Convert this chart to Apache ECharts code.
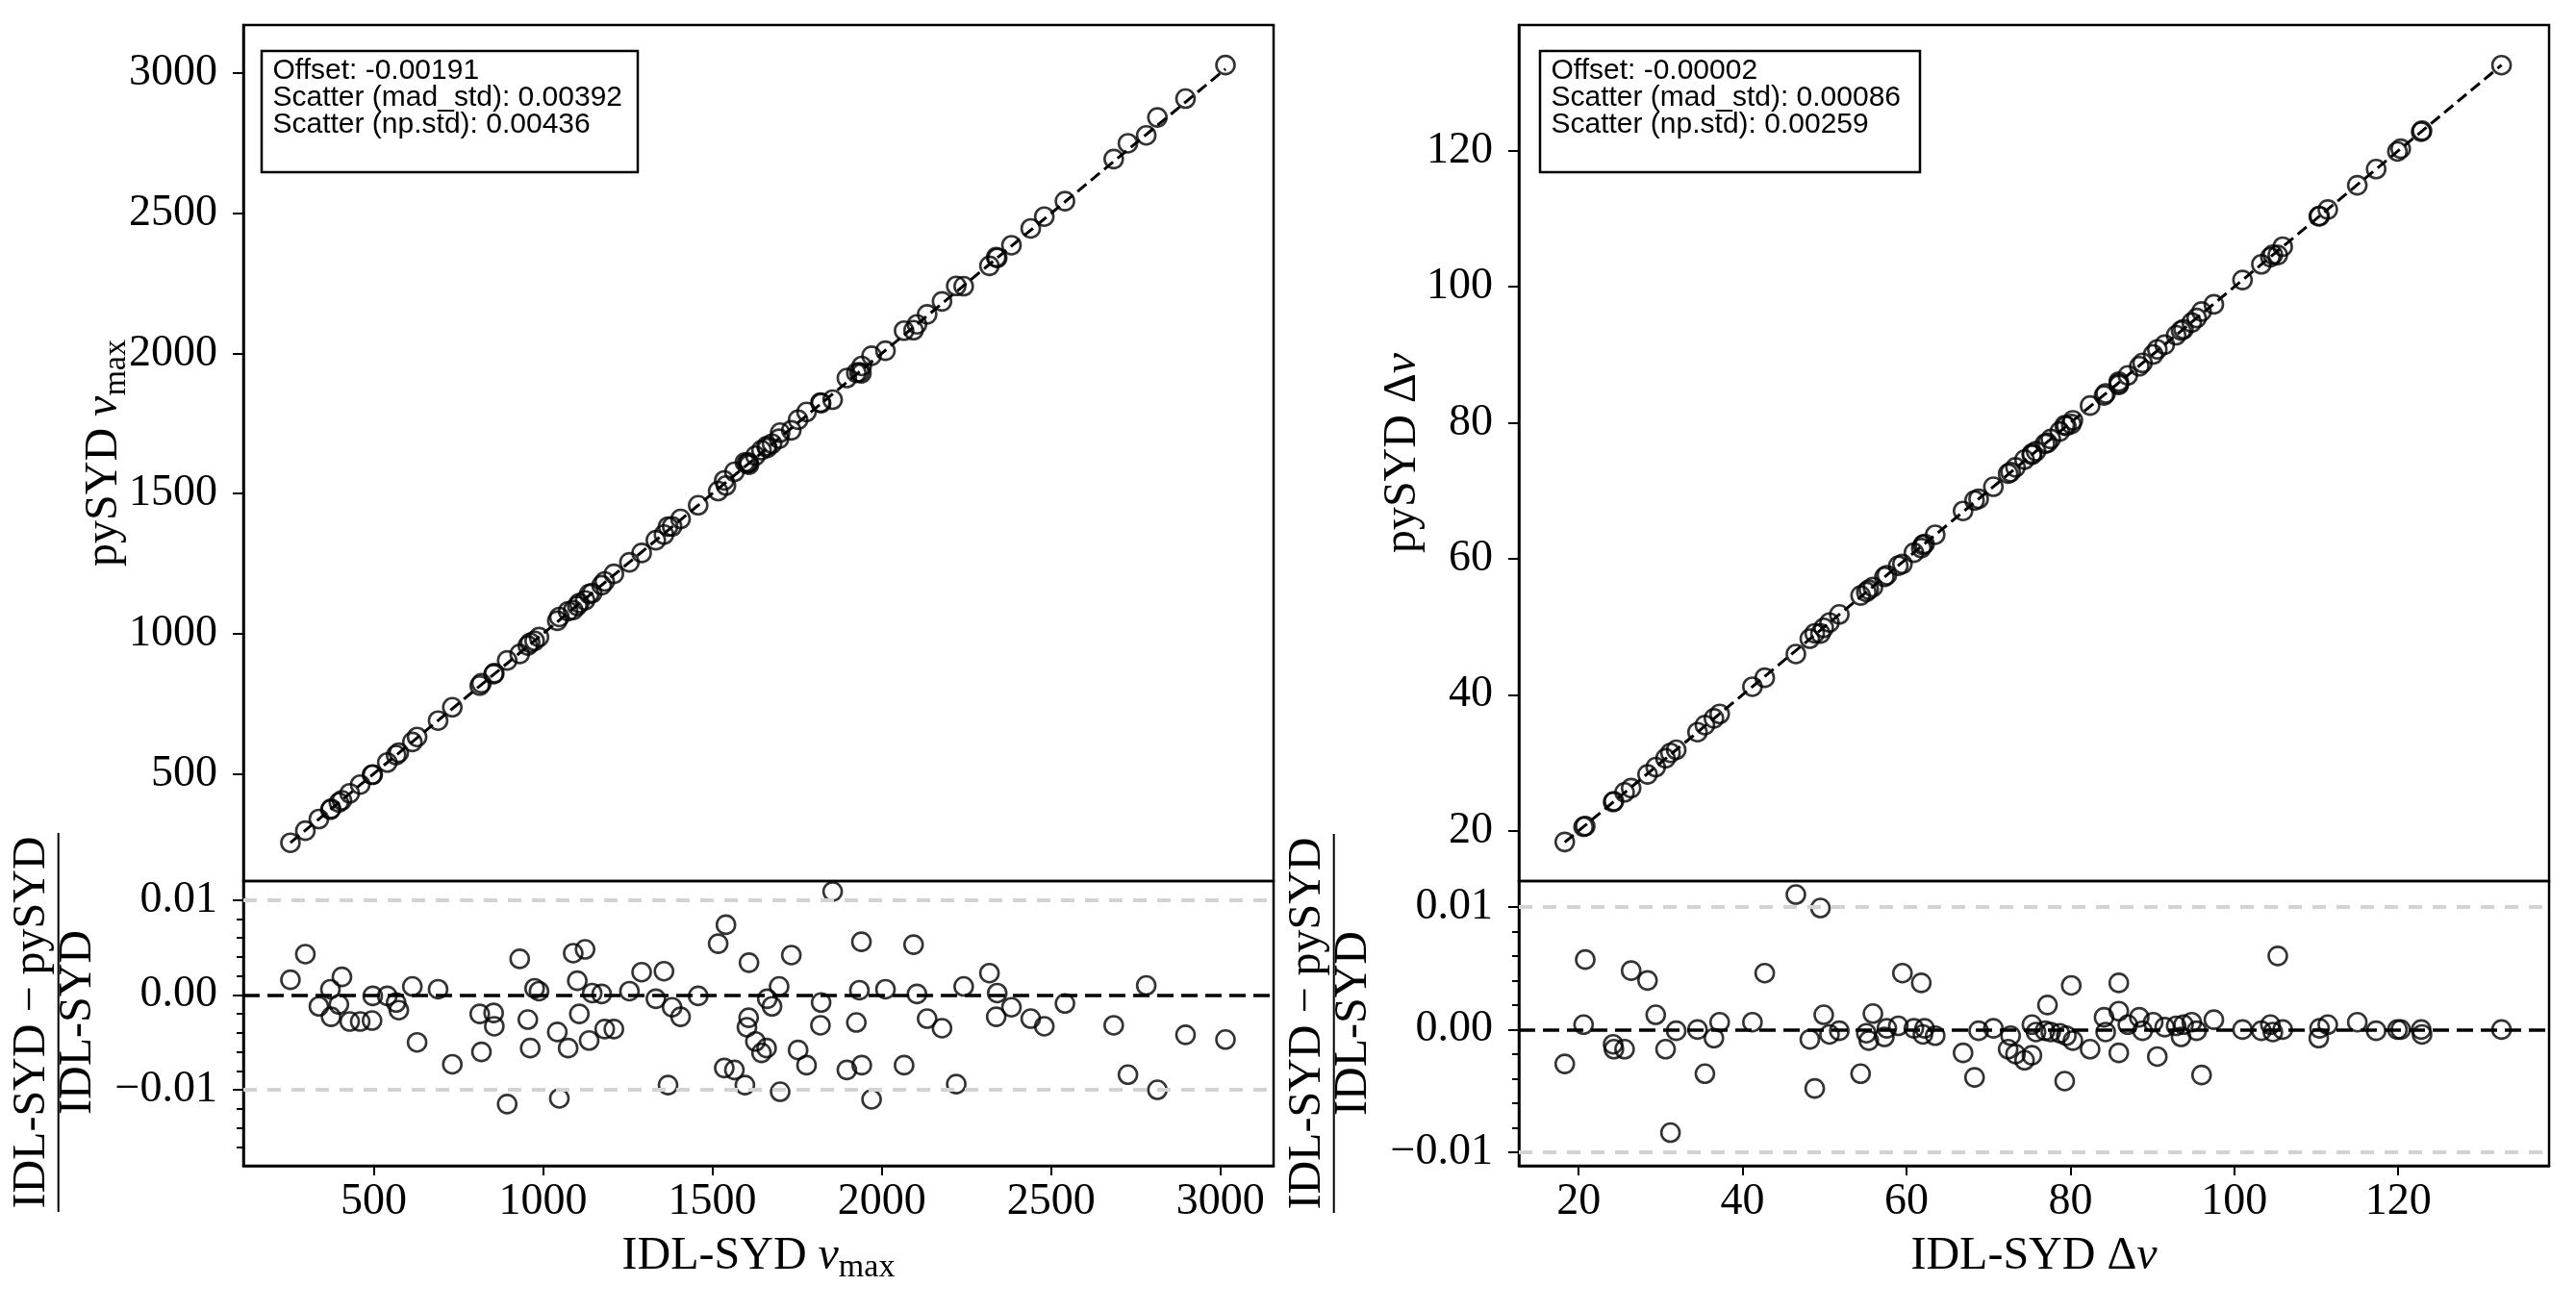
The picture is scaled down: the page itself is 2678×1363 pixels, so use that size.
<!DOCTYPE html>
<html>
<head>
<meta charset="utf-8">
<title>IDL-SYD vs pySYD</title>
<script src="https://cdn.jsdelivr.net/npm/echarts@6/dist/echarts.min.js"></script>
<style>
  html, body { margin: 0; padding: 0; background: #fff; }
  #chart { width: 2678px; height: 1363px; }
</style>
</head>
<body>
<div id="chart"></div>
<script>
// ── numax panel data ──
const idlNumax = [254, 298, 338, 372, 374, 397, 406, 429, 460, 495, 497, 540, 566, 574, 614, 628, 690, 732, 813, 818,
  854, 856, 894, 931, 955, 962, 975, 988, 1042, 1048, 1074, 1089, 1101, 1107, 1124, 1136, 1145, 1173, 1182, 1209,
  1255, 1291, 1333, 1357, 1369, 1381, 1406, 1458, 1517, 1535, 1540, 1565, 1596, 1602, 1607, 1608, 1627, 1645, 1660, 1662,
  1676, 1697, 1700, 1733, 1753, 1778, 1819, 1821, 1855, 1897, 1925, 1934, 1940, 1941, 1970, 2011, 2066, 2094, 2104, 2134,
  2178, 2220, 2242, 2318, 2338, 2341, 2383, 2440, 2480, 2541, 2685, 2727, 2781, 2814, 2897, 3015];
const pyNumax = [253.6, 296.7, 338.4, 371.8, 374.9, 397.4, 405.2, 430.2, 461.3, 496.3, 497.0, 540.1, 566.5, 574.9, 613.4, 631.1, 689.6, 737.3, 814.6, 822.9,
  855.6, 858.8, 904.3, 927.5, 957.5, 967.4, 974.3, 987.6, 1046.1, 1059.4, 1080.0, 1084.2, 1099.3, 1109.2, 1118.6, 1141.5, 1144.8, 1172.9, 1186.3, 1213.4,
  1254.5, 1287.9, 1333.5, 1353.6, 1382.0, 1382.8, 1409.2, 1458.1, 1508.8, 1546.8, 1528.6, 1577.4, 1611.2, 1607.4, 1610.9, 1602.5, 1635.0, 1655.0, 1669.3, 1662.7,
  1678.0, 1695.5, 1717.3, 1725.7, 1763.2, 1791.2, 1824.8, 1822.5, 1834.8, 1912.0, 1930.6, 1933.0, 1929.1, 1955.4, 1991.7, 2009.8, 2081.3, 2082.9, 2103.8, 2139.3,
  2185.6, 2240.9, 2240.0, 2312.7, 2343.4, 2340.5, 2386.1, 2446.1, 2488.2, 2543.3, 2693.6, 2749.9, 2778.2, 2842.1, 2909.2, 3029.2];
const fracNumax = [0.0016, 0.0043, -0.0012, 0.0006, -0.0023, -0.0010, 0.0019, -0.0028, -0.0028, -0.0027, -0.0001, -0.0001, -0.0008, -0.0016, 0.0009, -0.0050, 0.0006, -0.0073, -0.0020, -0.0060,
  -0.0019, -0.0033, -0.0115, 0.0038, -0.0026, -0.0056, 0.0007, 0.0004, -0.0039, -0.0109, -0.0056, 0.0044, 0.0015, -0.0020, 0.0048, -0.0048, 0.0002, 0.0001, -0.0036, -0.0036,
  0.0004, 0.0024, -0.0004, 0.0025, -0.0095, -0.0013, -0.0023, -0.0001, 0.0054, -0.0077, 0.0074, -0.0079, -0.0095, -0.0034, -0.0024, 0.0034, -0.0049, -0.0061, -0.0056, -0.0004,
  -0.0012, 0.0009, -0.0102, 0.0042, -0.0058, -0.0074, -0.0032, -0.0008, 0.0109, -0.0079, -0.0029, 0.0005, 0.0056, -0.0074, -0.0110, 0.0006, -0.0074, 0.0053, 0.0001, -0.0025,
  -0.0035, -0.0094, 0.0009, 0.0023, -0.0023, 0.0002, -0.0013, -0.0025, -0.0033, -0.0009, -0.0032, -0.0084, 0.0010, -0.0100, -0.0042, -0.0047];
const statsNumax = ['Offset: -0.00191', 'Scatter (mad_std): 0.00392', 'Scatter (np.std): 0.00436'];

// ── delta nu panel data ──
const idlDnu = [18.3, 20.6, 20.8, 24.2, 24.3, 25.6, 26.4, 28.4, 29.4, 30.6, 31.2, 31.9, 34.5, 35.4, 36.5, 37.2, 41.2, 42.7, 46.5, 48.2,
  48.8, 49.5, 49.9, 50.6, 51.8, 54.4, 55.1, 55.4, 55.9, 57.3, 57.6, 59.0, 59.5, 60.9, 61.8, 62.0, 62.2, 63.5, 66.9, 68.3,
  68.8, 70.6, 72.4, 72.7, 73.3, 74.4, 75.3, 75.3, 75.8, 76.9, 77.2, 77.6, 78.7, 79.3, 79.5, 80.1, 80.3, 82.4, 84.1, 84.3,
  85.9, 85.9, 85.9, 87.0, 88.4, 88.8, 90.1, 90.6, 91.5, 92.9, 93.5, 93.8, 94.8, 95.4, 96.0, 97.5, 101.0, 103.3, 104.4, 104.7,
  105.3, 105.9, 110.3, 110.4, 111.4, 115.0, 117.3, 119.9, 120.3, 122.8, 122.9, 132.6];
const pyDnu = [18.35, 20.59, 20.68, 24.23, 24.34, 25.64, 26.27, 28.29, 29.36, 30.65, 31.46, 31.90, 34.50, 35.53, 36.53, 37.18, 41.18, 42.50, 45.99, 48.24,
  49.03, 49.01, 49.84, 50.62, 51.81, 54.60, 55.12, 55.45, 55.83, 57.33, 57.59, 58.98, 59.23, 60.89, 61.57, 62.02, 62.19, 63.53, 67.03, 68.57,
  68.81, 70.59, 72.52, 72.74, 73.45, 74.59, 75.46, 75.27, 75.82, 76.91, 77.05, 77.62, 78.72, 79.63, 79.54, 79.81, 80.37, 82.53, 84.02, 84.32,
  85.57, 85.77, 86.06, 86.97, 88.31, 88.81, 90.05, 90.80, 91.48, 92.87, 93.56, 93.76, 94.74, 95.41, 96.36, 97.42, 101.00, 103.31, 104.36, 104.72,
  104.67, 105.90, 110.38, 110.39, 111.36, 114.93, 117.31, 119.90, 120.30, 122.80, 122.95, 132.60];
const fracDnu = [-0.0028, 0.0004, 0.0057, -0.0012, -0.0016, -0.0016, 0.0048, 0.0040, 0.0012, -0.0016, -0.0084, -0.0001, 0.0000, -0.0036, -0.0007, 0.0006, 0.0006, 0.0046, 0.0110, -0.0008,
  -0.0048, 0.0099, 0.0012, -0.0004, -0.0001, -0.0036, -0.0003, -0.0009, 0.0013, -0.0006, 0.0001, 0.0003, 0.0046, 0.0001, 0.0038, -0.0004, 0.0001, -0.0005, -0.0019, -0.0039,
  -0.0001, 0.0001, -0.0016, -0.0005, -0.0020, -0.0025, -0.0021, 0.0004, -0.0002, -0.0001, 0.0020, -0.0002, -0.0003, -0.0042, -0.0005, 0.0036, -0.0009, -0.0016, 0.0010, -0.0002,
  0.0038, 0.0015, -0.0019, 0.0004, 0.0010, -0.0001, 0.0006, -0.0022, 0.0002, 0.0003, -0.0006, 0.0004, 0.0006, -0.0001, -0.0037, 0.0008, 0.0000, -0.0001, 0.0004, -0.0002,
  0.0060, 0.0000, -0.0007, 0.0001, 0.0004, 0.0006, -0.0001, 0.0000, 0.0000, 0.0000, -0.0004, 0.0000];
const statsDnu = ['Offset: -0.00002', 'Scatter (mad_std): 0.00086', 'Scatter (np.std): 0.00259'];

// ── tick labels ──
const ticksNumax = [500, 1000, 1500, 2000, 2500, 3000];
const ticksDnu = [20, 40, 60, 80, 100, 120];
const ticksResid = [-0.01, 0, 0.01];
const minorResidNumax = [-0.016, -0.014, -0.012, -0.008, -0.006, -0.004, -0.002, 0.002, 0.004, 0.006, 0.008];
const minorResidDnu = [-0.008, -0.006, -0.004, -0.002, 0.002, 0.004, 0.006, 0.008];

// ── styles ──
const SERIF = "'Liberation Serif', 'DejaVu Serif', serif";
const SANS = "'Liberation Sans', 'DejaVu Sans', sans-serif";
const gridBox = { show: true, borderColor: '#000', borderWidth: 2.5, backgroundColor: 'transparent' };
const tickLabel = { color: '#000', fontFamily: SERIF, fontSize: 46 };
const marker = { color: 'rgba(0,0,0,0)', borderColor: '#000', borderWidth: 2.6 };
const plainFmt = v => String(v);
const residFmt = v => v === 0 ? '0.00' : (v < 0 ? '\u2212' : '') + Math.abs(v).toFixed(2);

function xAxisBottom(grid, min, max, ticks) {
  return {
    type: 'value', gridIndex: grid, min: min, max: max, position: 'bottom',
    axisLine: { show: true, onZero: false, lineStyle: { color: '#000', width: 2.5 } },
    axisTick: { show: true, customValues: ticks, length: 10, lineStyle: { color: '#000', width: 2 } },
    axisLabel: Object.assign({ customValues: ticks, margin: 15, formatter: plainFmt }, tickLabel),
    splitLine: { show: false }
  };
}
function yAxisMajor(grid, min, max, ticks, fmt) {
  return {
    type: 'value', gridIndex: grid, min: min, max: max, position: 'left',
    axisLine: { show: true, onZero: false, lineStyle: { color: '#000', width: 2.5 } },
    axisTick: { show: true, customValues: ticks, length: 11, lineStyle: { color: '#000', width: 2 } },
    axisLabel: Object.assign({ customValues: ticks, margin: 27, formatter: fmt || plainFmt }, tickLabel),
    splitLine: { show: false }
  };
}
function yAxisMinor(grid, min, max, ticks) {
  return {
    type: 'value', gridIndex: grid, min: min, max: max, position: 'left', offset: 0,
    axisLine: { show: false, onZero: false },
    axisTick: { show: true, customValues: ticks, length: 7, lineStyle: { color: '#000', width: 2 } },
    axisLabel: { show: false },
    splitLine: { show: false }
  };
}
function hiddenX(grid, min, max) {
  return { type: 'value', gridIndex: grid, min: min, max: max, show: false,
    axisLine: { onZero: false }, splitLine: { show: false } };
}

const pairs = (a, b) => a.map((v, i) => [v, b[i]]);
const oneToOne = arr => {
  const lo = Math.min(...arr), hi = Math.max(...arr);
  return [[lo, lo], [hi, hi]];
};
const residLines = {
  silent: true, symbol: ['none', 'none'], label: { show: false }, animation: false,
  data: [
    { yAxis: 0.01, lineStyle: { color: '#d3d3d3', width: 4, type: [14, 11] } },
    { yAxis: -0.01, lineStyle: { color: '#d3d3d3', width: 4, type: [14, 11] } },
    { yAxis: 0, lineStyle: { color: '#000', width: 3.5, type: [17, 8] } }
  ]
};

// ── labels ──
const richLabel = {
  a: { fontFamily: SERIF, fontSize: 48, lineHeight: 48, verticalAlign: 'middle', fill: '#000' },
  i: { fontFamily: SERIF, fontSize: 48, lineHeight: 48, fontStyle: 'italic', verticalAlign: 'middle', fill: '#000' },
  s: { fontFamily: SERIF, fontSize: 34, lineHeight: 34, padding: [24, 0, 0, 0], verticalAlign: 'middle', fill: '#000' }
};
function title(x, y, text, rot) {
  return {
    type: 'text', x: x, y: y, rotation: rot || 0, silent: true,
    style: { text: text, rich: richLabel, align: 'center', verticalAlign: 'middle', fontFamily: SERIF, fontSize: 48, fill: '#000' }
  };
}
function fraction(x, y) {
  const txt = (t, dy) => ({
    type: 'text', x: 0, y: dy,
    style: { text: t, align: 'center', verticalAlign: 'middle', fontFamily: SERIF, fontSize: 48, fill: '#000' }
  });
  return {
    type: 'group', x: x, y: y, rotation: Math.PI / 2, silent: true,
    children: [
      { type: 'line', shape: { x1: -197, y1: 0, x2: 197, y2: 0 }, style: { stroke: '#000', lineWidth: 2 } },
      txt('IDL-SYD \u2212 pySYD', -27),
      txt('IDL-SYD', 21)
    ]
  };
}
function statsBox(x, y, w, h, lines) {
  return {
    type: 'group', silent: true,
    children: [
      { type: 'rect', shape: { x: x, y: y, width: w, height: h }, style: { fill: '#fff', stroke: '#000', lineWidth: 2.5 }, z: 10 },
      { type: 'text', x: x + 11.5, y: y + 7, z: 11,
        style: { text: lines.join('\n'), fontFamily: SANS, fontSize: 30, lineHeight: 28, fill: '#000', align: 'left', verticalAlign: 'top' } }
    ]
  };
}

// ── chart ──
const chart = echarts.init(document.getElementById('chart'), null, { renderer: 'canvas' });
chart.setOption({
  backgroundColor: '#fff',
  animation: false,
  grid: [
    Object.assign({ left: 253, top: 26, width: 1071, height: 890 }, gridBox),
    Object.assign({ left: 253, top: 916, width: 1071, height: 296 }, gridBox),
    Object.assign({ left: 1579, top: 26, width: 1071, height: 890 }, gridBox),
    Object.assign({ left: 1579, top: 916, width: 1071, height: 296 }, gridBox)
  ],
  xAxis: [
    hiddenX(0, 115, 3157),
    xAxisBottom(1, 115, 3157, ticksNumax),
    hiddenX(2, 12.7, 138.4),
    xAxisBottom(3, 12.7, 138.4, ticksDnu)
  ],
  yAxis: [
    yAxisMajor(0, 117, 3172, ticksNumax),
    yAxisMajor(1, -0.0180, 0.0120, ticksResid, residFmt),
    yAxisMinor(1, -0.0180, 0.0120, minorResidNumax),
    yAxisMajor(2, 12.6, 138.5, ticksDnu),
    yAxisMajor(3, -0.0111, 0.0121, ticksResid, residFmt),
    yAxisMinor(3, -0.0111, 0.0121, minorResidDnu)
  ],
  series: [
    { type: 'line', xAxisIndex: 0, yAxisIndex: 0, data: oneToOne(idlNumax), showSymbol: false, silent: true,
      lineStyle: { color: '#000', width: 3, type: [12, 6] }, z: 1 },
    { type: 'scatter', xAxisIndex: 0, yAxisIndex: 0, data: pairs(idlNumax, pyNumax),
      symbol: 'circle', symbolSize: 19, itemStyle: marker, z: 2 },
    { type: 'scatter', xAxisIndex: 1, yAxisIndex: 1, data: pairs(idlNumax, fracNumax),
      symbol: 'circle', symbolSize: 19, itemStyle: marker, markLine: residLines, z: 2 },
    { type: 'line', xAxisIndex: 2, yAxisIndex: 3, data: oneToOne(idlDnu), showSymbol: false, silent: true,
      lineStyle: { color: '#000', width: 3, type: [12, 6] }, z: 1 },
    { type: 'scatter', xAxisIndex: 2, yAxisIndex: 3, data: pairs(idlDnu, pyDnu),
      symbol: 'circle', symbolSize: 19, itemStyle: marker, z: 2 },
    { type: 'scatter', xAxisIndex: 3, yAxisIndex: 4, data: pairs(idlDnu, fracDnu),
      symbol: 'circle', symbolSize: 19, itemStyle: marker, markLine: residLines, z: 2 }
  ],
  graphic: [
    statsBox(272, 53, 391, 126, statsNumax),
    statsBox(1601, 53, 395, 126, statsDnu),
    title(788.5, 1306.4, '{a|IDL-SYD }{i|\u03bd}{s|max}'),
    title(2114.5, 1306.4, '{a|IDL-SYD \u0394}{i|\u03bd}'),
    title(108.7, 471, '{a|pySYD }{i|\u03bd}{s|max}', Math.PI / 2),
    title(1458.2, 471, '{a|pySYD \u0394}{i|\u03bd}', Math.PI / 2),
    fraction(60.7, 1063),
    fraction(1386.7, 1064)
  ]
});
</script>
</body>
</html>
